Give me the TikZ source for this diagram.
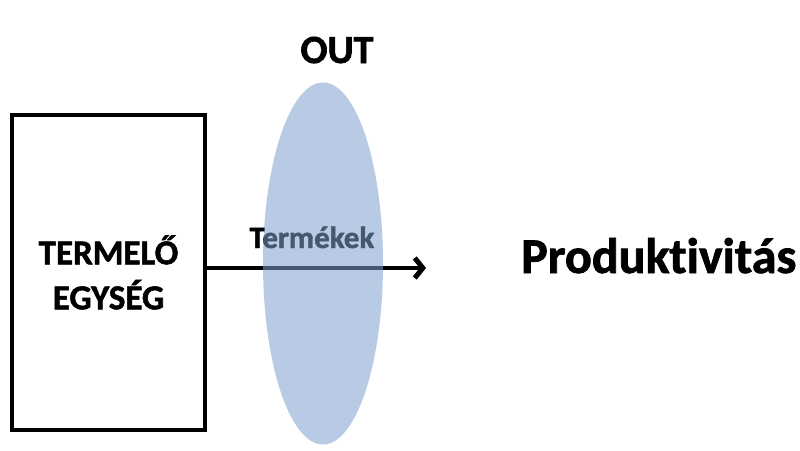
\documentclass[tikz,border=0pt]{standalone}
\usepackage{fontspec}
\setmainfont{Carlito}[Ligatures=NoCommon,BoldFeatures={FakeBold=1.5}]
\usetikzlibrary{arrows.meta,positioning,shapes.geometric}

\definecolor{lensblue}{RGB}{128,162,206}

\tikzset{
  label text/.style={font=\bfseries\fontsize{#1}{#1}\selectfont,inner sep=0pt},
  flow/.style={line width=3.5pt,-{Straight Barb[length=8pt,width=20pt,line width=5pt]}},
}

\begin{document}
\begin{tikzpicture}[x=1pt,y=-1pt]
			\useasboundingbox[fill=white] (0,0) rectangle (800,450);
			\node[draw,line width=4pt,minimum width=193pt,minimum height=315pt,align=center,inner sep=0pt,
				font=\bfseries\fontsize{35}{45}\selectfont] (unit) at (108.5,272.5) {TERMELŐ\\EGYSÉG};
			\path
			(426,268) coordinate (head)
			;
			\draw[flow] (unit.east |- head) -- (head);
			\node[label text=31,anchor=base] (goods) at (312,248) {Termékek};
			% transparent lens over the flow
			\node[ellipse,fill=lensblue,fill opacity=0.55,minimum width=120pt,minimum height=362pt,inner sep=0pt] (lens) at (323,263.5) {};
			\node[label text=40,anchor=base] (out) at (337,63) {OUT};
			\node[label text=50,anchor=base west] (result) at (521,273) {Produktivitás};
		\end{tikzpicture}
\end{document}
